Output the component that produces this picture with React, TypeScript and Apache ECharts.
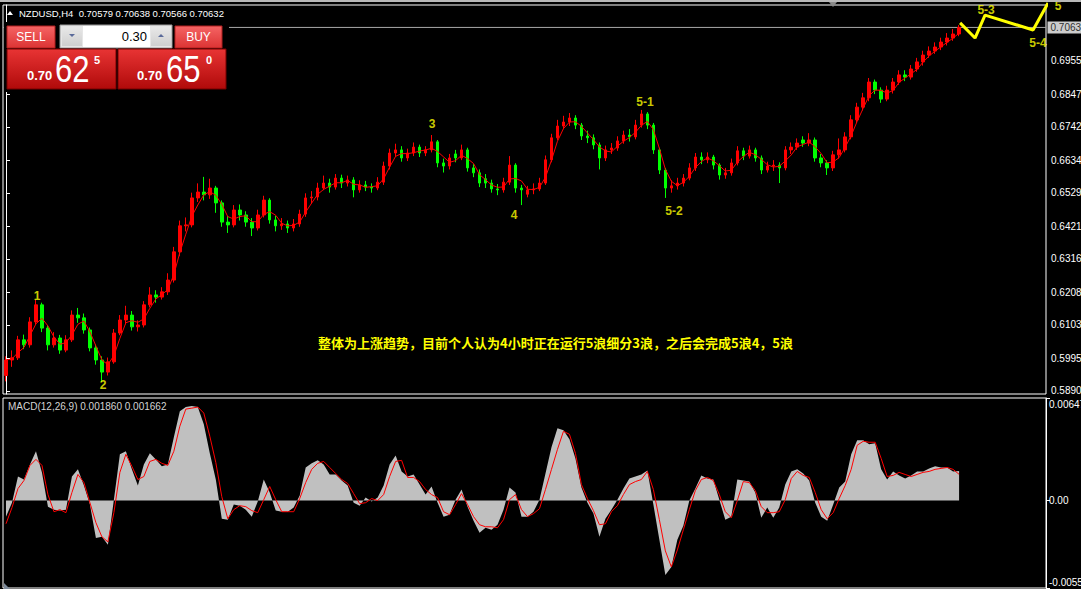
import React, { useEffect, useRef } from "react";
import * as echarts from "echarts";

// ---------- header / panel texts ----------
const SYMBOL = "NZDUSD,H4";
const HEADER_OHLC = ["0.70579", "0.70638", "0.70566", "0.70632"];
const LAST_PRICE = 0.70632;
const LOT = "0.30";
const SELL_QUOTE = ["0.70", "62", "5"];
const BUY_QUOTE = ["0.70", "65", "0"];
const MACD_LABEL = "MACD(12,26,9) 0.001860 0.001662";
const NOTE = "整体为上涨趋势，目前个人认为4小时正在运行5浪细分3浪，之后会完成5浪4，5浪";

// ---------- axes ----------
const PRICE_MIN = 0.58803;
const PRICE_MAX = 0.71356;
const PRICE_TICKS = [0.6955, 0.6847, 0.6742, 0.6634, 0.6529, 0.6421, 0.6316, 0.6208, 0.6103, 0.5995, 0.589];
const MACD_MIN = -0.00551;
const MACD_MAX = 0.00647;
const MACD_TICKS = [0.00647, 0, -0.00551];
const FUTURE_BARS = 14;
const MA_PERIOD = 3;
const MACD_UNIT = 1e-5;

// ---------- candles ----------
const opens = [
  0.5940, 0.5990, 0.5997, 0.6055, 0.6039, 0.6113, 0.6168, 0.6093, 0.6039, 0.6061,
  0.6022, 0.6055, 0.6135, 0.6126, 0.6087, 0.6029, 0.5990, 0.5951, 0.5984, 0.6077,
  0.6119, 0.6135, 0.6097, 0.6103, 0.6168, 0.6200, 0.6193, 0.6210, 0.6248, 0.6339,
  0.6423, 0.6426, 0.6513, 0.6532, 0.6523, 0.6545, 0.6497, 0.6435, 0.6426, 0.6474,
  0.6458, 0.6435, 0.6416, 0.6458, 0.6506, 0.6442, 0.6423, 0.6429, 0.6416, 0.6429,
  0.6461, 0.6513, 0.6516, 0.6545, 0.6561, 0.6548, 0.6577, 0.6561, 0.6571, 0.6539,
  0.6555, 0.6548, 0.6545, 0.6564, 0.6616, 0.6658, 0.6668, 0.6642, 0.6658, 0.6677,
  0.6658, 0.6668, 0.6694, 0.6626, 0.6616, 0.6655, 0.6642, 0.6668, 0.6610, 0.6594,
  0.6575, 0.6561, 0.6542, 0.6539, 0.6564, 0.6619, 0.6545, 0.6525, 0.6539, 0.6542,
  0.6561, 0.6636, 0.6707, 0.6745, 0.6758, 0.6771, 0.6748, 0.6713, 0.6707, 0.6684,
  0.6642, 0.6668, 0.6674, 0.6697, 0.6716, 0.6710, 0.6748, 0.6784, 0.6748, 0.6668,
  0.6603, 0.6545, 0.6552, 0.6561, 0.6577, 0.6610, 0.6645, 0.6636, 0.6645, 0.6619,
  0.6587, 0.6594, 0.6626, 0.6665, 0.6648, 0.6668, 0.6642, 0.6603, 0.6616, 0.6619,
  0.6610, 0.6668, 0.6677, 0.6700, 0.6690, 0.6700, 0.6642, 0.6626, 0.6610, 0.6652,
  0.6668, 0.6710, 0.6765, 0.6806, 0.6836, 0.6887, 0.6861, 0.6832, 0.6861, 0.6887,
  0.6910, 0.6903, 0.6929, 0.6952, 0.6974, 0.6987, 0.7000, 0.7016, 0.7029, 0.7042,
];
const closes = [
  0.5990, 0.5997, 0.6055, 0.6039, 0.6113, 0.6168, 0.6093, 0.6039, 0.6061, 0.6022,
  0.6055, 0.6135, 0.6126, 0.6087, 0.6029, 0.5990, 0.5951, 0.5984, 0.6077, 0.6119,
  0.6135, 0.6097, 0.6103, 0.6168, 0.6200, 0.6193, 0.6210, 0.6248, 0.6339, 0.6423,
  0.6426, 0.6513, 0.6532, 0.6523, 0.6545, 0.6497, 0.6435, 0.6426, 0.6474, 0.6458,
  0.6435, 0.6416, 0.6458, 0.6506, 0.6442, 0.6423, 0.6429, 0.6416, 0.6429, 0.6461,
  0.6513, 0.6516, 0.6545, 0.6561, 0.6548, 0.6577, 0.6561, 0.6571, 0.6539, 0.6555,
  0.6548, 0.6545, 0.6564, 0.6616, 0.6658, 0.6668, 0.6642, 0.6658, 0.6677, 0.6658,
  0.6668, 0.6694, 0.6626, 0.6616, 0.6642, 0.6642, 0.6668, 0.6610, 0.6594, 0.6561,
  0.6561, 0.6542, 0.6539, 0.6564, 0.6619, 0.6545, 0.6539, 0.6539, 0.6542, 0.6561,
  0.6636, 0.6707, 0.6745, 0.6758, 0.6771, 0.6748, 0.6713, 0.6707, 0.6684, 0.6642,
  0.6668, 0.6674, 0.6697, 0.6716, 0.6710, 0.6748, 0.6784, 0.6748, 0.6668, 0.6603,
  0.6545, 0.6552, 0.6561, 0.6577, 0.6610, 0.6645, 0.6636, 0.6645, 0.6619, 0.6587,
  0.6594, 0.6626, 0.6665, 0.6648, 0.6668, 0.6642, 0.6603, 0.6616, 0.6619, 0.6610,
  0.6668, 0.6677, 0.6690, 0.6690, 0.6700, 0.6642, 0.6626, 0.6610, 0.6652, 0.6668,
  0.6710, 0.6765, 0.6806, 0.6836, 0.6887, 0.6861, 0.6832, 0.6861, 0.6887, 0.6910,
  0.6903, 0.6929, 0.6952, 0.6974, 0.6987, 0.7000, 0.7016, 0.7029, 0.7042, 0.7063,
];
const lows = [
  0.5921, 0.5968, 0.5990, 0.6025, 0.6030, 0.6105, 0.6080, 0.6021, 0.6030, 0.6010,
  0.6015, 0.6048, 0.6110, 0.6075, 0.6018, 0.5975, 0.5919, 0.5940, 0.5978, 0.6070,
  0.6105, 0.6085, 0.6082, 0.6095, 0.6160, 0.6175, 0.6185, 0.6200, 0.6240, 0.6325,
  0.6405, 0.6418, 0.6500, 0.6505, 0.6510, 0.6465, 0.6420, 0.6400, 0.6418, 0.6440,
  0.6420, 0.6390, 0.6408, 0.6450, 0.6430, 0.6405, 0.6410, 0.6400, 0.6405, 0.6420,
  0.6452, 0.6495, 0.6505, 0.6538, 0.6530, 0.6540, 0.6545, 0.6550, 0.6515, 0.6530,
  0.6535, 0.6530, 0.6538, 0.6555, 0.6605, 0.6645, 0.6630, 0.6632, 0.6648, 0.6645,
  0.6648, 0.6660, 0.6612, 0.6595, 0.6605, 0.6628, 0.6635, 0.6598, 0.6580, 0.6548,
  0.6545, 0.6530, 0.6522, 0.6530, 0.6555, 0.6530, 0.6490, 0.6515, 0.6525, 0.6535,
  0.6555, 0.6628, 0.6700, 0.6735, 0.6745, 0.6735, 0.6700, 0.6690, 0.6670, 0.6605,
  0.6632, 0.6655, 0.6665, 0.6688, 0.6695, 0.6702, 0.6740, 0.6735, 0.6655, 0.6590,
  0.6513, 0.6530, 0.6540, 0.6550, 0.6570, 0.6600, 0.6622, 0.6625, 0.6605, 0.6572,
  0.6575, 0.6585, 0.6618, 0.6635, 0.6640, 0.6630, 0.6590, 0.6595, 0.6600, 0.6561,
  0.6602, 0.6655, 0.6668, 0.6678, 0.6680, 0.6630, 0.6612, 0.6587, 0.6600, 0.6640,
  0.6660, 0.6702, 0.6755, 0.6795, 0.6825, 0.6848, 0.6820, 0.6825, 0.6850, 0.6878,
  0.6890, 0.6895, 0.6920, 0.6940, 0.6965, 0.6978, 0.6990, 0.7005, 0.7020, 0.7035,
];
const highs = [
  0.6002, 0.6021, 0.6068, 0.6072, 0.6128, 0.6184, 0.6175, 0.6102, 0.6080, 0.6071,
  0.6070, 0.6150, 0.6158, 0.6140, 0.6095, 0.6040, 0.6002, 0.5998, 0.6090, 0.6135,
  0.6165, 0.6148, 0.6118, 0.6180, 0.6225, 0.6215, 0.6225, 0.6270, 0.6355, 0.6440,
  0.6450, 0.6530, 0.6560, 0.6581, 0.6575, 0.6552, 0.6505, 0.6455, 0.6490, 0.6492,
  0.6470, 0.6448, 0.6475, 0.6520, 0.6512, 0.6455, 0.6448, 0.6440, 0.6445, 0.6475,
  0.6528, 0.6535, 0.6562, 0.6585, 0.6575, 0.6590, 0.6588, 0.6585, 0.6580, 0.6570,
  0.6568, 0.6560, 0.6580, 0.6630, 0.6672, 0.6688, 0.6680, 0.6672, 0.6692, 0.6685,
  0.6680, 0.6716, 0.6700, 0.6640, 0.6655, 0.6668, 0.6685, 0.6675, 0.6622, 0.6605,
  0.6590, 0.6572, 0.6558, 0.6578, 0.6648, 0.6625, 0.6555, 0.6552, 0.6560, 0.6578,
  0.6650, 0.6720, 0.6765, 0.6778, 0.6787, 0.6780, 0.6755, 0.6730, 0.6718, 0.6692,
  0.6682, 0.6690, 0.6712, 0.6730, 0.6735, 0.6765, 0.6797, 0.6790, 0.6755, 0.6675,
  0.6610, 0.6570, 0.6578, 0.6590, 0.6625, 0.6658, 0.6660, 0.6660, 0.6652, 0.6625,
  0.6610, 0.6640, 0.6680, 0.6675, 0.6682, 0.6675, 0.6650, 0.6630, 0.6635, 0.6628,
  0.6680, 0.6692, 0.6705, 0.6712, 0.6722, 0.6708, 0.6655, 0.6635, 0.6665, 0.6705,
  0.6725, 0.6780, 0.6820, 0.6852, 0.6900, 0.6895, 0.6870, 0.6875, 0.6900, 0.6925,
  0.6925, 0.6942, 0.6965, 0.6988, 0.7002, 0.7015, 0.7030, 0.7045, 0.7058, 0.7071,
];

// ---------- MACD (in 1e-5 units) ----------
const macdMain = [
  -101, -13, 152, 133, 228, 311, 178, -38, -57, -63,
  -57, 152, 197, 95, -25, -235, -228, -279, 6, 292,
  311, 197, 95, 228, 298, 260, 216, 228, 399, 564,
  590, 596, 590, 482, 298, 133, -114, -120, -25, -32,
  -57, -101, -6, 133, 51, -63, -70, -70, -44, 32,
  209, 235, 254, 228, 165, 165, 127, 95, -13, -32,
  19, -6, 19, 95, 228, 285, 184, 152, 165, 101,
  38, 89, -13, -101, -89, 6, 70, -38, -127, -203,
  -171, -184, -152, -57, 82, 51, -101, -101, -70, 6,
  171, 336, 456, 444, 387, 266, 82, -13, -82, -228,
  -114, -57, 6, 76, 139, 152, 165, 190, -25, -247,
  -469, -418, -247, -159, 0, 76, 159, 139, 133, 6,
  -120, -101, 133, 127, 120, 51, -108, -44, -108, -44,
  101, 184, 197, 171, 127, -13, -101, -127, -25, 82,
  120, 292, 380, 380, 355, 361, 197, 133, 184, 159,
  139, 159, 184, 184, 203, 216, 209, 209, 184, 186,
];
const macdSignal = [
  -146, -44, 76, 127, 222, 260, 222, 38, -70, -57,
  -76, 51, 165, 114, -13, -139, -228, -260, -76, 178,
  292, 216, 133, 152, 247, 260, 235, 222, 311, 469,
  577, 583, 590, 552, 406, 241, 25, -114, -57, -32,
  -38, -63, -76, 6, 89, 6, -70, -70, -70, 13,
  114, 197, 235, 247, 209, 171, 133, 108, 44, -19,
  -13, 13, 0, 38, 152, 247, 254, 146, 146, 120,
  70, 38, 19, -70, -89, -25, 44, -25, -101, -152,
  -165, -165, -171, -120, 6, 38, -57, -101, -82, -51,
  70, 197, 323, 437, 418, 298, 101, 13, -63, -152,
  -146, -70, -32, 38, 101, 120, 133, 184, 70, -120,
  -317, -418, -311, -184, -57, 63, 133, 146, 127, 38,
  -70, -108, 0, 120, 114, 63, -38, -76, -76, -70,
  6, 139, 184, 159, 146, 51, -57, -114, -76, 13,
  95, 197, 349, 374, 368, 368, 266, 152, 159, 178,
  165, 152, 165, 178, 184, 197, 203, 209, 197, 166,
];

// ---------- wave annotations (bar index, price) ----------
const waveNames = ["1", "2", "3", "4", "5-1", "5-2", "5-3", "5-4", "5"];
const waveIdx = [5.17, 16.18, 71.07, 84.75, 106.6, 111.44, 163.5, 172.17, 175.5];
const wavePrice = [0.6197, 0.5909, 0.6752, 0.6458, 0.6823, 0.6471, 0.712, 0.7013, 0.7132];
const projIdx = [159.17, 161.66, 163.33, 171.34, 173.84];
const projPrice = [0.7078, 0.7029, 0.7103, 0.7055, 0.7142];

const FONT = "'Liberation Sans', Arial, sans-serif";
const CJK = "'Noto Sans CJK SC', sans-serif";

function grad(top: string, bottom: string) {
  return new echarts.graphic.LinearGradient(0, 0, 0, 1, [
    { offset: 0, color: top },
    { offset: 1, color: bottom },
  ]);
}

function buildOption() {
  const N = closes.length;
  const TOTAL = N + FUTURE_BARS;
  const cats = Array.from({ length: TOTAL }, (_, i) => String(i + 1));
  const candleData = closes.map((c, i) => [opens[i], c, lows[i], highs[i]]);
  const ma = closes.map((_, i) => {
    const from = Math.max(0, i - MA_PERIOD + 1);
    const win = closes.slice(from, i + 1);
    return +(win.reduce((a, b) => a + b, 0) / win.length).toFixed(5);
  });
  const main = macdMain.map((v) => v * MACD_UNIT);
  const sig = macdSignal.map((v) => v * MACD_UNIT);

  const text = (x: number, y: number, t: string, extra: any = {}, el: any = {}) => ({
    type: "text",
    x,
    y,
    z: 100,
    silent: true,
    ...el,
    style: {
      text: t,
      fill: "#fff",
      fontSize: 10,
      fontFamily: FONT,
      verticalAlign: "middle",
      ...extra,
    },
  });

  const graphic: any[] = [
    { type: "rect", shape: { x: 0, y: 0, width: 1081, height: 2 }, style: { fill: "#b8b8b8" }, z: 90, silent: true },
    { type: "polygon", shape: { points: [[7, 15], [13, 15], [10, 11]] }, style: { fill: "#fff" }, z: 100, silent: true },
    text(19, 13.5, `${SYMBOL}  ${HEADER_OHLC.join(" ")}`, { fontSize: 9.5 }),
    { type: "polygon", shape: { points: [[829, 2], [837, 2], [833, 7]] }, style: { fill: "#8a8a8a" }, z: 100, silent: true },
    // trade panel
    { type: "rect", shape: { x: 4, y: 22, width: 225, height: 70 }, style: { fill: "#000" }, z: 95, silent: true },
    { type: "rect", shape: { x: 7, y: 26, width: 48, height: 22 }, style: { fill: grad("#f56464", "#dc3434"), stroke: "#b01e1e", lineWidth: 1 }, z: 96, silent: true },
    text(31, 37, "SELL", { fontSize: 12, align: "center" }),
    { type: "rect", shape: { x: 60, y: 25, width: 112, height: 23 }, style: { fill: "#e6e6e6", stroke: "#9a9a9a", lineWidth: 1 }, z: 96, silent: true },
    { type: "rect", shape: { x: 62, y: 27, width: 20, height: 19 }, style: { fill: grad("#e8e8e8", "#cfcfcf") }, z: 97, silent: true },
    { type: "polygon", shape: { points: [[69, 34], [75, 34], [72, 37]] }, style: { fill: "#5a6a9a" }, z: 98, silent: true },
    { type: "rect", shape: { x: 83, y: 26, width: 67, height: 21 }, style: { fill: "#fff" }, z: 97, silent: true },
    text(147, 36.5, LOT, { fontSize: 13, fill: "#000", align: "right" }),
    { type: "rect", shape: { x: 151, y: 27, width: 20, height: 19 }, style: { fill: grad("#e8e8e8", "#cfcfcf") }, z: 97, silent: true },
    { type: "polygon", shape: { points: [[158, 37], [164, 37], [161, 34]] }, style: { fill: "#5a6a9a" }, z: 98, silent: true },
    { type: "rect", shape: { x: 175, y: 26, width: 47, height: 22 }, style: { fill: grad("#f56464", "#dc3434"), stroke: "#b01e1e", lineWidth: 1 }, z: 96, silent: true },
    text(198.5, 37, "BUY", { fontSize: 12, align: "center" }),
    { type: "rect", shape: { x: 7, y: 49, width: 109, height: 40 }, style: { fill: grad("#e83434", "#b00a0a"), stroke: "#780000", lineWidth: 1 }, z: 96, silent: true },
    { type: "rect", shape: { x: 118, y: 49, width: 108, height: 40 }, style: { fill: grad("#e83434", "#b00a0a"), stroke: "#780000", lineWidth: 1 }, z: 96, silent: true },
    text(27, 75.5, SELL_QUOTE[0], { fontSize: 13, fontWeight: "bold" }),
    text(55, 69.5, SELL_QUOTE[1], { fontSize: 37 }, { scaleX: 0.84 }),
    text(94, 60, SELL_QUOTE[2], { fontSize: 11, fontWeight: "bold" }),
    text(137, 75.5, BUY_QUOTE[0], { fontSize: 13, fontWeight: "bold" }),
    text(166, 69.5, BUY_QUOTE[1], { fontSize: 37 }, { scaleX: 0.84 }),
    text(206, 60, BUY_QUOTE[2], { fontSize: 11, fontWeight: "bold" }),
    // note
    text(318, 342, NOTE, { fontSize: 13, fontWeight: "bold", fill: "#ffff00", fontFamily: CJK }),
    // MACD label
    text(8, 406.5, MACD_LABEL, { fill: "#d4d4d4" }),
    { type: "polygon", shape: { points: [[4, 583], [4, 589], [10, 589]] }, style: { fill: "#7d8a9a" }, z: 100, silent: true },
  ];

  const gridBase = { left: 3, right: 35, show: true, borderColor: "#ffffff", borderWidth: 1, containLabel: false, outerBoundsMode: "none" };

  return {
    animation: false,
    backgroundColor: "#000",
    graphic,
    grid: [
      { ...gridBase, top: 5, height: 389 },
      { ...gridBase, top: 398, height: 190 },
    ],
    xAxis: [
      { type: "category", gridIndex: 0, data: cats, boundaryGap: true, axisLine: { show: false }, axisTick: { show: false }, axisLabel: { show: false }, splitLine: { show: false } },
      { type: "value", gridIndex: 0, min: -0.5, max: TOTAL - 0.5, show: false, splitLine: { show: false } },
      { type: "category", gridIndex: 1, data: cats, boundaryGap: true, show: false },
    ],
    yAxis: [
      {
        type: "value",
        gridIndex: 0,
        position: "right",
        min: PRICE_MIN,
        max: PRICE_MAX,
        splitLine: { show: false },
        axisLine: { show: true, lineStyle: { color: "#fff", width: 1 } },
        axisTick: { show: true, length: 4, customValues: PRICE_TICKS, lineStyle: { color: "#fff" } },
        axisLabel: { customValues: PRICE_TICKS, formatter: (v: number) => v.toFixed(5), color: "#fff", fontSize: 10, fontFamily: FONT, margin: 5 },
      },
      {
        type: "value",
        gridIndex: 1,
        position: "right",
        min: MACD_MIN,
        max: MACD_MAX,
        splitLine: { show: false },
        axisLine: { show: true, lineStyle: { color: "#fff", width: 1 } },
        axisTick: { show: true, length: 4, customValues: MACD_TICKS, lineStyle: { color: "#fff" } },
        axisLabel: {
          customValues: MACD_TICKS,
          formatter: (v: number) =>
            v === 0 ? "0.00" : v > 0 ? "\n" + v.toFixed(5) : v.toFixed(5) + "\n",
          color: "#fff",
          fontSize: 10,
          lineHeight: 12,
          fontFamily: FONT,
          margin: 3,
        },
      },
    ],
    series: [
      {
        type: "line",
        xAxisIndex: 1,
        yAxisIndex: 0,
        data: [[-0.5, LAST_PRICE], [TOTAL - 0.5, LAST_PRICE]],
        symbol: "none",
        silent: true,
        lineStyle: { color: "#a8a8a8", width: 1 },
        z: 1,
      },
      {
        type: "scatter",
        xAxisIndex: 1,
        yAxisIndex: 0,
        clip: false,
        silent: true,
        symbolSize: 1,
        itemStyle: { color: "rgba(0,0,0,0)" },
        data: [[TOTAL - 0.5, LAST_PRICE]],
        label: {
          show: true,
          position: "right",
          distance: 1,
          formatter: LAST_PRICE.toFixed(5),
          color: "#000",
          backgroundColor: "#fff",
          padding: [1, 3, 1, 3],
          fontSize: 10,
          fontFamily: FONT,
        },
        z: 7,
      },
      {
        type: "candlestick",
        xAxisIndex: 0,
        yAxisIndex: 0,
        data: candleData,
        barWidth: 3,
        itemStyle: { color: "#ff0000", color0: "#00ff00", borderColor: "#ff0000", borderColor0: "#00ff00", borderWidth: 1 },
        z: 2,
      },
      {
        type: "line",
        xAxisIndex: 0,
        yAxisIndex: 0,
        data: ma,
        symbol: "none",
        lineStyle: { color: "#ff0000", width: 1 },
        z: 3,
      },
      {
        type: "line",
        xAxisIndex: 1,
        yAxisIndex: 0,
        data: projIdx.map((x, i) => [x, projPrice[i]]),
        symbol: "none",
        clip: false,
        lineStyle: { color: "#ffff00", width: 3 },
        z: 5,
      },
      {
        type: "scatter",
        xAxisIndex: 1,
        yAxisIndex: 0,
        clip: false,
        symbolSize: 1,
        itemStyle: { color: "rgba(0,0,0,0)" },
        data: waveNames.map((n, i) => ({ name: n, value: [waveIdx[i], wavePrice[i]] })),
        label: { show: true, position: "inside", formatter: "{b}", color: "#ffff00", fontSize: 12, fontWeight: "bold", fontFamily: FONT },
        z: 6,
      },
      {
        type: "line",
        xAxisIndex: 2,
        yAxisIndex: 1,
        data: main,
        symbol: "none",
        lineStyle: { width: 0, color: "#c0c0c0" },
        areaStyle: { color: "#c0c0c0", opacity: 1 },
        z: 2,
      },
      {
        type: "line",
        xAxisIndex: 2,
        yAxisIndex: 1,
        data: sig,
        symbol: "none",
        lineStyle: { color: "#ff0000", width: 1 },
        z: 3,
      },
    ],
  };
}

export default function App() {
  const ref = useRef<HTMLDivElement>(null);
  useEffect(() => {
    if (!ref.current) return;
    const chart = echarts.init(ref.current, null, { renderer: "svg" });
    chart.setOption(buildOption() as any);
    return () => chart.dispose();
  }, []);
  return (
    <div
      ref={ref}
      style={{ position: "fixed", left: 0, top: 0, width: 1081, height: 589, background: "#000" }}
    />
  );
}
